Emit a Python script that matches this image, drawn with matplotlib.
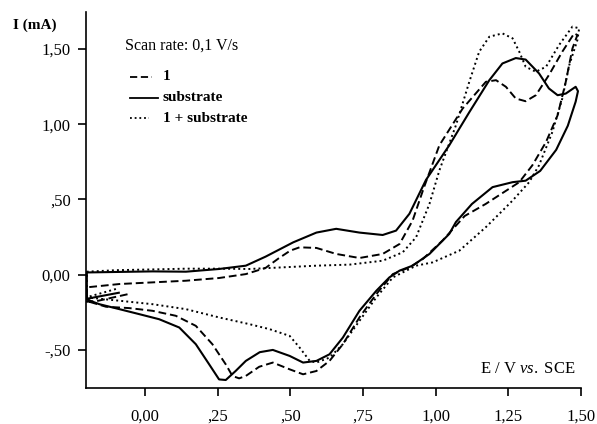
import numpy as np
import matplotlib
matplotlib.use('Agg')
import matplotlib.pyplot as plt

plt.rcParams['font.family'] = ['Liberation Serif', 'DejaVu Serif']
plt.rcParams['mathtext.fontset'] = 'custom'
plt.rcParams['mathtext.rm'] = 'Liberation Serif'
plt.rcParams['mathtext.it'] = 'Liberation Serif:italic'

# cyclic voltammograms (E in V vs SCE, I in mA)
# each one: start segment, forward scan to ~1.5 V, reverse scan back to -0.2 V
e_comp = [-0.06, -0.165, -0.2, -0.2, -0.088, 0.026, 0.141, 0.255, 0.347, 0.415, 0.461,
          0.5, 0.532, 0.59, 0.658, 0.738, 0.818, 0.876, 0.921, 0.96, 1.013, 1.093,
          1.173, 1.208, 1.242, 1.276, 1.31, 1.345, 1.39, 1.436, 1.477, 1.488,
          1.471, 1.448, 1.42, 1.38, 1.333, 1.288, 1.173, 1.1, 1.024, 0.956, 0.91,
          0.853, 0.796, 0.738, 0.681, 0.635, 0.59, 0.544, 0.498, 0.44, 0.393, 0.347,
          0.324, 0.301, 0.278, 0.232, 0.175, 0.106, 0.026, -0.054, -0.134, -0.2]
i_comp = [-0.13, -0.175, -0.18, -0.084, -0.062, -0.051, -0.04, -0.022, 0.004, 0.045, 0.11,
          0.16, 0.182, 0.178, 0.138, 0.111, 0.138, 0.204, 0.36, 0.58, 0.86, 1.104,
          1.282, 1.293, 1.249, 1.171, 1.153, 1.193, 1.327, 1.482, 1.604, 1.593,
          1.504, 1.282, 1.06, 0.882, 0.727, 0.615, 0.471, 0.39, 0.227, 0.104, 0.049,
          0.004, -0.129, -0.284, -0.462, -0.573, -0.64, -0.662, -0.629, -0.584, -0.612, -0.673,
          -0.689, -0.673, -0.596, -0.462, -0.34, -0.273, -0.24, -0.222, -0.213, -0.175]

e_subs = [-0.09, -0.2, -0.2, 0.026, 0.141, 0.255, 0.347, 0.415, 0.475, 0.51, 0.59,
          0.658, 0.738, 0.818, 0.864, 0.91, 0.967, 1.047, 1.116, 1.185, 1.23, 1.276,
          1.31, 1.356, 1.39, 1.42, 1.448, 1.482, 1.49,
          1.482, 1.455, 1.415, 1.36, 1.31, 1.265, 1.196, 1.125, 1.07, 1.047, 0.979,
          0.921, 0.876, 0.841, 0.796, 0.738, 0.681, 0.635, 0.59, 0.544, 0.498, 0.44,
          0.395, 0.347, 0.312, 0.278, 0.255, 0.221, 0.175, 0.118, 0.049, -0.02, -0.088,
          -0.157, -0.2]
i_subs = [-0.12, -0.16, 0.015, 0.022, 0.02, 0.038, 0.06, 0.12, 0.18, 0.215, 0.28,
          0.305, 0.28, 0.264, 0.293, 0.405, 0.63, 0.86, 1.08, 1.293, 1.404, 1.44,
          1.43, 1.338, 1.238, 1.193, 1.204, 1.249, 1.22,
          1.15, 0.99, 0.83, 0.69, 0.625, 0.615, 0.582, 0.47, 0.35, 0.271, 0.138,
          0.06, 0.027, -0.018, -0.107, -0.24, -0.418, -0.529, -0.573, -0.584, -0.54, -0.5,
          -0.515, -0.573, -0.64, -0.70, -0.696, -0.596, -0.462, -0.351, -0.296, -0.262, -0.229,
          -0.196, -0.165]

e_mix = [-0.1, -0.2, -0.2, -0.1, 0.026, 0.141, 0.255, 0.36, 0.475, 0.59, 0.704,
         0.818, 0.887, 0.933, 0.979, 1.013, 1.07, 1.116, 1.15, 1.185, 1.23, 1.265,
         1.288, 1.31, 1.345, 1.38, 1.425, 1.471, 1.494,
         1.488, 1.46, 1.436, 1.402, 1.356, 1.322, 1.265, 1.219, 1.173, 1.082, 0.99,
         0.933, 0.853, 0.796, 0.738, 0.681, 0.635, 0.59, 0.567, 0.532, 0.498, 0.429,
         0.36, 0.255, 0.141, 0.026, -0.088, -0.2]
i_mix = [-0.095, -0.15, 0.02, 0.03, 0.035, 0.04, 0.04, 0.038, 0.049, 0.06, 0.067,
         0.093, 0.149, 0.249, 0.471, 0.693, 0.993, 1.282, 1.482, 1.582, 1.604, 1.571,
         1.482, 1.382, 1.349, 1.382, 1.527, 1.649, 1.638,
         1.56, 1.393, 1.171, 0.949, 0.727, 0.615, 0.493, 0.404, 0.316, 0.16, 0.082,
         0.06, -0.018, -0.151, -0.307, -0.462, -0.551, -0.584, -0.573, -0.484, -0.407, -0.362,
         -0.329, -0.284, -0.229, -0.196, -0.173, -0.151]

x_ticks = [0.0, 0.25, 0.5, 0.75, 1.0, 1.25, 1.5]
x_labels = ['0,00', ',25', ',50', ',75', '1,00', '1,25', '1,50']
y_ticks = [-0.5, 0.0, 0.5, 1.0, 1.5]
y_labels = ['-,50', '0,00', ',50', '1,00', '1,50']

fig = plt.figure(figsize=(5.97, 4.24), dpi=100)
ax = fig.add_axes([0.144, 0.086, 0.829, 0.886])

ax.plot(e_comp, i_comp, color='black', lw=1.4, linestyle=(0, (4, 2)))
ax.plot(e_subs, i_subs, color='black', lw=1.5, linestyle='-')
ax.plot(e_mix, i_mix, color='black', lw=1.4, linestyle=(0, (1, 1.6)))

ax.set_xlim(-0.203, 1.5)
ax.set_ylim(-0.75, 1.747)
ax.spines['top'].set_visible(False)
ax.spines['right'].set_visible(False)
ax.spines['left'].set_linewidth(1.2)
ax.spines['bottom'].set_linewidth(1.2)

ax.set_xticks(x_ticks)
ax.set_xticklabels(x_labels)
ax.set_yticks(y_ticks)
ax.set_yticklabels(y_labels)
ax.tick_params(axis='x', direction='out', length=6, width=1.2, labelsize=12, pad=9)
ax.tick_params(axis='y', direction='out', length=6, width=1.2, labelsize=12, pad=5)

ax.text(-0.455, 1.66, 'I (mA)', fontsize=11, fontweight='bold', ha='left', va='center')
ax.text(1.48, -0.63, r'E / V $\mathit{vs.}$ SCE', fontsize=12, ha='right', va='center')

# hand-made legend block
ax.text(-0.07, 1.52, 'Scan rate: 0,1 V/s', fontsize=11.5, ha='left', va='center')
leg_y = [1.315, 1.175, 1.04]
leg_labels = ['1', 'substrate', '1 + substrate']
leg_styles = [(0, (4, 2)), '-', (0, (1, 1.6))]
leg_ends = [0.025, 0.045, 0.015]
for yy, lab, ls, xe in zip(leg_y, leg_labels, leg_styles, leg_ends):
    ax.plot([-0.05, xe], [yy, yy], color='black', lw=1.3, linestyle=ls)
    ax.text(0.062, yy, lab, fontsize=11, fontweight='bold', ha='left', va='center')

fig.savefig('out.png', dpi=100)
